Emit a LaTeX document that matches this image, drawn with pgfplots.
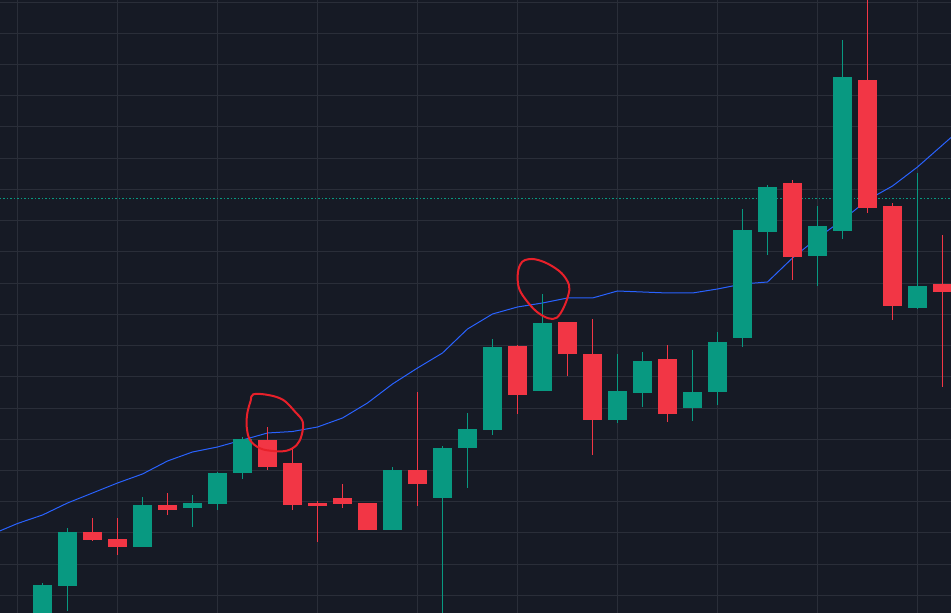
\documentclass[border=0pt]{standalone}
\usepackage{pgfplots}
\usepackage{pgfplotstable}
\pgfplotsset{compat=1.18}
\definecolor{bgcol}{HTML}{161A25}
\definecolor{gridcol}{HTML}{2A2E39}
\definecolor{upcol}{HTML}{089981}
\definecolor{downcol}{HTML}{F23645}
\definecolor{macol}{HTML}{2962FF}
\definecolor{annot}{HTML}{E8202A}

% x = candle index, columns: open high low close
\pgfplotstableread{
x o h l c
0 -27 30 -37 28
1 27.3 85 2.3 81
4 66.3 116 66.3 108
6 105.3 118 86.3 110
7 109.3 141 103.3 140
8 140.3 176 134.3 174
14 83.3 146 83.3 143
16 115.3 167 -40 165
17 165.3 200 125.3 184
18 183.3 274 178.3 266
20 222.3 319 222.3 290
23 193.3 259 190.3 222
24 220.3 261 206.3 252
26 205.3 263 192.3 221
27 221.3 281 208.3 271
28 275.3 404 266.3 383
29 381.3 428 358.3 426
31 357.3 407 327.3 387
32 382.3 573 374.3 536
35 305.3 440 304.3 327
}\upcandles

\pgfplotstableread{
x o h l c
2 81 95 72.3 73.3
3 74 95 58.3 66.3
5 108 120 98.3 103.3
9 173 186 143.3 146
10 150 164 103.3 108
11 110 112 71.3 107.3
12 115 129 105.3 109.3
13 110 110 83.3 83.3
15 143 221 107.3 129.3
19 267 268 199.3 218.3
21 291 291 237.3 259.3
22 259 294 158.3 193.3
25 254 268 191.3 199.3
30 430 433 333.3 356.3
33 533 640 400.3 405.3
34 407 410 293.3 307.3
36 329 378 226.3 321.3
}\downcandles

\pgfplotstableread{
x ma
-2 79
-1 89.5
0 98
1 110
2 120
3 130
4 139
5 152
6 161
7 166
8 173
9 180
10 181.5
11 186
12 195
13 210
14 229
15 245
16 260
17 284
18 299
19 306
20 310
21 315
22 315
23 322
24 321
25 320
26 320
27 324
28 329
29 331
30 355
31 375
32 393
33 413
34 427
35 446
36 468
37 490
}\matable

\begin{document}
\begin{tikzpicture}
\useasboundingbox (0,0) rectangle (951bp,613bp);
\begin{axis}[
  at={(0,0)}, anchor=south west,
  width=951bp, height=613bp, scale only axis,
  xmin=-1.7, xmax=36.34, ymin=0, ymax=613,
  axis background/.style={fill=bgcol},
  axis line style={draw=none},
  tick style={draw=none},
  xtick={-1,3,7,11,15,19,23,27,31,35},
  ytick={17.6,48.83,80.06,111.29,142.52,173.75,204.98,236.21,267.44,298.67,329.9,361.13,392.36,423.59,454.82,486.05,517.28,548.51,579.74,610.97},
  xticklabels={}, yticklabels={},
  grid=major,
  major grid style={draw=gridcol, line width=1bp},
  clip=true,
]
% dotted price line
\addplot[upcol, line width=1bp, dash pattern=on 1.5bp off 2bp] coordinates {(-2,414.7) (38,414.7)};
% moving average
\addplot[macol, line width=1bp, mark=none] table[x=x, y=ma] {\matable};
% wicks
\addplot[mark=none, draw=none, error bars/.cd, y dir=plus, y explicit, error mark=none,
  error bar style={line width=1bp, draw=upcol}]
  table[x=x, y=l, y error expr=\thisrow{h}-\thisrow{l}] {\upcandles};
\addplot[mark=none, draw=none, error bars/.cd, y dir=plus, y explicit, error mark=none,
  error bar style={line width=1bp, draw=downcol}]
  table[x=x, y=l, y error expr=\thisrow{h}-\thisrow{l}] {\downcandles};
% bodies
\addplot[mark=none, draw=none, error bars/.cd, y dir=plus, y explicit, error mark=none,
  error bar style={line width=19bp, draw=upcol}]
  table[x=x, y=o, y error expr=\thisrow{c}-\thisrow{o}] {\upcandles};
\addplot[mark=none, draw=none, error bars/.cd, y dir=plus, y explicit, error mark=none,
  error bar style={line width=19bp, draw=downcol}]
  table[x=x, y=c, y error expr=\thisrow{o}-\thisrow{c}] {\downcandles};
% hand-drawn annotation rings
\draw[annot, line width=2bp] plot[smooth cycle, tension=0.6] coordinates {
 (axis cs:8.432,218.7) (axis cs:9.032,218) (axis cs:9.632,213) (axis cs:10.1,201.3)
 (axis cs:10.408,191.3) (axis cs:10.368,178) (axis cs:10.168,168) (axis cs:9.768,162.3)
 (axis cs:9.232,162) (axis cs:8.7,164.7) (axis cs:8.3,173) (axis cs:8.168,186.3)
 (axis cs:8.192,199.7) (axis cs:8.328,212.3)};
\draw[annot, line width=2bp] plot[smooth cycle, tension=0.6] coordinates {
 (axis cs:19.3,353) (axis cs:19.7,353.7) (axis cs:20.232,349) (axis cs:20.768,339.7)
 (axis cs:21.06,328) (axis cs:21.032,318) (axis cs:20.832,304.7) (axis cs:20.568,295.3)
 (axis cs:20.232,294.7) (axis cs:19.768,301.3) (axis cs:19.34,313) (axis cs:19.06,324.7)
 (axis cs:19.008,338) (axis cs:19.1,348)};
\end{axis}
\end{tikzpicture}
\end{document}
